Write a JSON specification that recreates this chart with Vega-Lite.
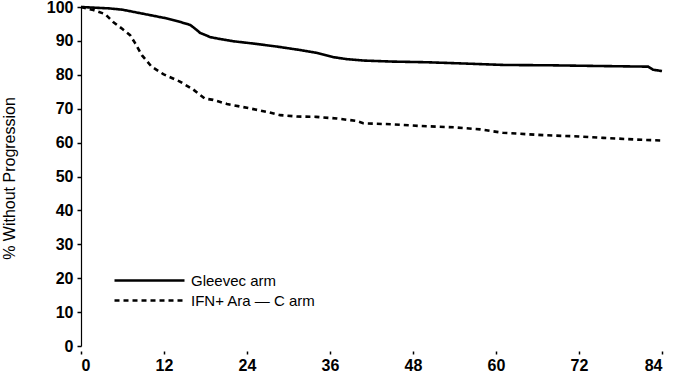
{
  "$schema": "https://vega.github.io/schema/vega-lite/v6.json",
  "width": 581,
  "height": 339,
  "autosize": {"type": "none"},
  "padding": {"left": 81, "top": 7, "right": 15, "bottom": 27},
  "background": "white",
  "config": {"view": {"stroke": null}, "font": "Liberation Sans"},
  "data": {"values": [
    {"arm": "Gleevec arm", "month": 0, "pct": 100},
    {"arm": "Gleevec arm", "month": 2, "pct": 99.8},
    {"arm": "Gleevec arm", "month": 4, "pct": 99.6},
    {"arm": "Gleevec arm", "month": 6, "pct": 99.2},
    {"arm": "Gleevec arm", "month": 8, "pct": 98.4},
    {"arm": "Gleevec arm", "month": 10, "pct": 97.6},
    {"arm": "Gleevec arm", "month": 12, "pct": 96.8},
    {"arm": "Gleevec arm", "month": 14, "pct": 95.8},
    {"arm": "Gleevec arm", "month": 15.8, "pct": 94.7},
    {"arm": "Gleevec arm", "month": 16.5, "pct": 93.6},
    {"arm": "Gleevec arm", "month": 17.2, "pct": 92.4},
    {"arm": "Gleevec arm", "month": 18.7, "pct": 91.1},
    {"arm": "Gleevec arm", "month": 20, "pct": 90.6},
    {"arm": "Gleevec arm", "month": 22, "pct": 89.9},
    {"arm": "Gleevec arm", "month": 25, "pct": 89.2},
    {"arm": "Gleevec arm", "month": 28.4, "pct": 88.3},
    {"arm": "Gleevec arm", "month": 31.7, "pct": 87.3},
    {"arm": "Gleevec arm", "month": 34, "pct": 86.5},
    {"arm": "Gleevec arm", "month": 36.5, "pct": 85.2},
    {"arm": "Gleevec arm", "month": 38.5, "pct": 84.6},
    {"arm": "Gleevec arm", "month": 40.9, "pct": 84.2},
    {"arm": "Gleevec arm", "month": 45, "pct": 83.9},
    {"arm": "Gleevec arm", "month": 50, "pct": 83.7},
    {"arm": "Gleevec arm", "month": 54.4, "pct": 83.4},
    {"arm": "Gleevec arm", "month": 61.2, "pct": 82.9},
    {"arm": "Gleevec arm", "month": 68, "pct": 82.8},
    {"arm": "Gleevec arm", "month": 74.7, "pct": 82.6},
    {"arm": "Gleevec arm", "month": 82, "pct": 82.4},
    {"arm": "Gleevec arm", "month": 82.7, "pct": 81.5},
    {"arm": "Gleevec arm", "month": 84, "pct": 81.1},
    {"arm": "IFN+ Ara — C arm", "month": 0, "pct": 100},
    {"arm": "IFN+ Ara — C arm", "month": 1.8, "pct": 99.1},
    {"arm": "IFN+ Ara — C arm", "month": 3.5, "pct": 97.9},
    {"arm": "IFN+ Ara — C arm", "month": 4.7, "pct": 95.5},
    {"arm": "IFN+ Ara — C arm", "month": 6, "pct": 93.5},
    {"arm": "IFN+ Ara — C arm", "month": 7.1, "pct": 91.7},
    {"arm": "IFN+ Ara — C arm", "month": 7.8, "pct": 89.4},
    {"arm": "IFN+ Ara — C arm", "month": 8.8, "pct": 85.8},
    {"arm": "IFN+ Ara — C arm", "month": 10.2, "pct": 82.4},
    {"arm": "IFN+ Ara — C arm", "month": 11.9, "pct": 80.2},
    {"arm": "IFN+ Ara — C arm", "month": 14.3, "pct": 78},
    {"arm": "IFN+ Ara — C arm", "month": 16.2, "pct": 75.7},
    {"arm": "IFN+ Ara — C arm", "month": 17.9, "pct": 73},
    {"arm": "IFN+ Ara — C arm", "month": 19.1, "pct": 72.6},
    {"arm": "IFN+ Ara — C arm", "month": 21.1, "pct": 71.4},
    {"arm": "IFN+ Ara — C arm", "month": 24.4, "pct": 70.1},
    {"arm": "IFN+ Ara — C arm", "month": 26.8, "pct": 69.1},
    {"arm": "IFN+ Ara — C arm", "month": 28.8, "pct": 68.1},
    {"arm": "IFN+ Ara — C arm", "month": 31.2, "pct": 67.7},
    {"arm": "IFN+ Ara — C arm", "month": 34, "pct": 67.6},
    {"arm": "IFN+ Ara — C arm", "month": 37, "pct": 67.1},
    {"arm": "IFN+ Ara — C arm", "month": 39.8, "pct": 66.4},
    {"arm": "IFN+ Ara — C arm", "month": 40.8, "pct": 65.7},
    {"arm": "IFN+ Ara — C arm", "month": 45, "pct": 65.4},
    {"arm": "IFN+ Ara — C arm", "month": 49, "pct": 64.9},
    {"arm": "IFN+ Ara — C arm", "month": 54, "pct": 64.5},
    {"arm": "IFN+ Ara — C arm", "month": 57.7, "pct": 63.9},
    {"arm": "IFN+ Ara — C arm", "month": 61, "pct": 62.9},
    {"arm": "IFN+ Ara — C arm", "month": 66.8, "pct": 62.2},
    {"arm": "IFN+ Ara — C arm", "month": 72, "pct": 61.8},
    {"arm": "IFN+ Ara — C arm", "month": 75.5, "pct": 61.4},
    {"arm": "IFN+ Ara — C arm", "month": 80.3, "pct": 60.9},
    {"arm": "IFN+ Ara — C arm", "month": 84, "pct": 60.6}
  ]},
  "mark": {"type": "line", "color": "black", "strokeWidth": 2.6},
  "encoding": {
    "x": {
      "field": "month", "type": "quantitative",
      "scale": {"domain": [0, 84], "nice": false},
      "axis": {
        "values": [0, 12, 24, 36, 48, 60, 72, 84],
        "title": null, "domain": false, "grid": false,
        "offset": 5, "tickSize": 3, "tickColor": "black", "tickWidth": 1.5,
        "labelPadding": 3, "labelFont": "Liberation Sans", "labelFontSize": 16,
        "labelFontWeight": "bold", "labelColor": "black"
      }
    },
    "y": {
      "field": "pct", "type": "quantitative",
      "scale": {"domain": [0, 100], "nice": false},
      "axis": {
        "values": [0, 10, 20, 30, 40, 50, 60, 70, 80, 90, 100],
        "title": "% Without Progression", "grid": false,
        "domainColor": "black", "domainWidth": 1.2,
        "tickSize": 4, "tickColor": "black", "tickWidth": 1.5,
        "labelPadding": 4, "labelFont": "Liberation Sans", "labelFontSize": 16,
        "labelFontWeight": "bold", "labelColor": "black",
        "titleFont": "Liberation Sans", "titleFontSize": 16, "titleFontWeight": "normal",
        "titleColor": "black", "titleX": -72, "titleY": 171,
        "titleAngle": 270, "titleAlign": "center", "titleBaseline": "middle"
      }
    },
    "strokeDash": {
      "field": "arm", "type": "nominal",
      "scale": {"domain": ["Gleevec arm", "IFN+ Ara — C arm"], "range": [[1, 0], [5, 4]]},
      "legend": {
        "title": null, "orient": "none", "legendX": 60, "legendY": 265,
        "symbolType": "M-5,0H5", "symbolSize": 196, "symbolStrokeWidth": 2.4,
        "symbolStrokeColor": "black", "symbolFillColor": "transparent",
        "labelFont": "Liberation Sans",
        "labelFontSize": 15, "labelColor": "black", "labelOffset": 33,
        "rowPadding": 3
      }
    }
  }
}
